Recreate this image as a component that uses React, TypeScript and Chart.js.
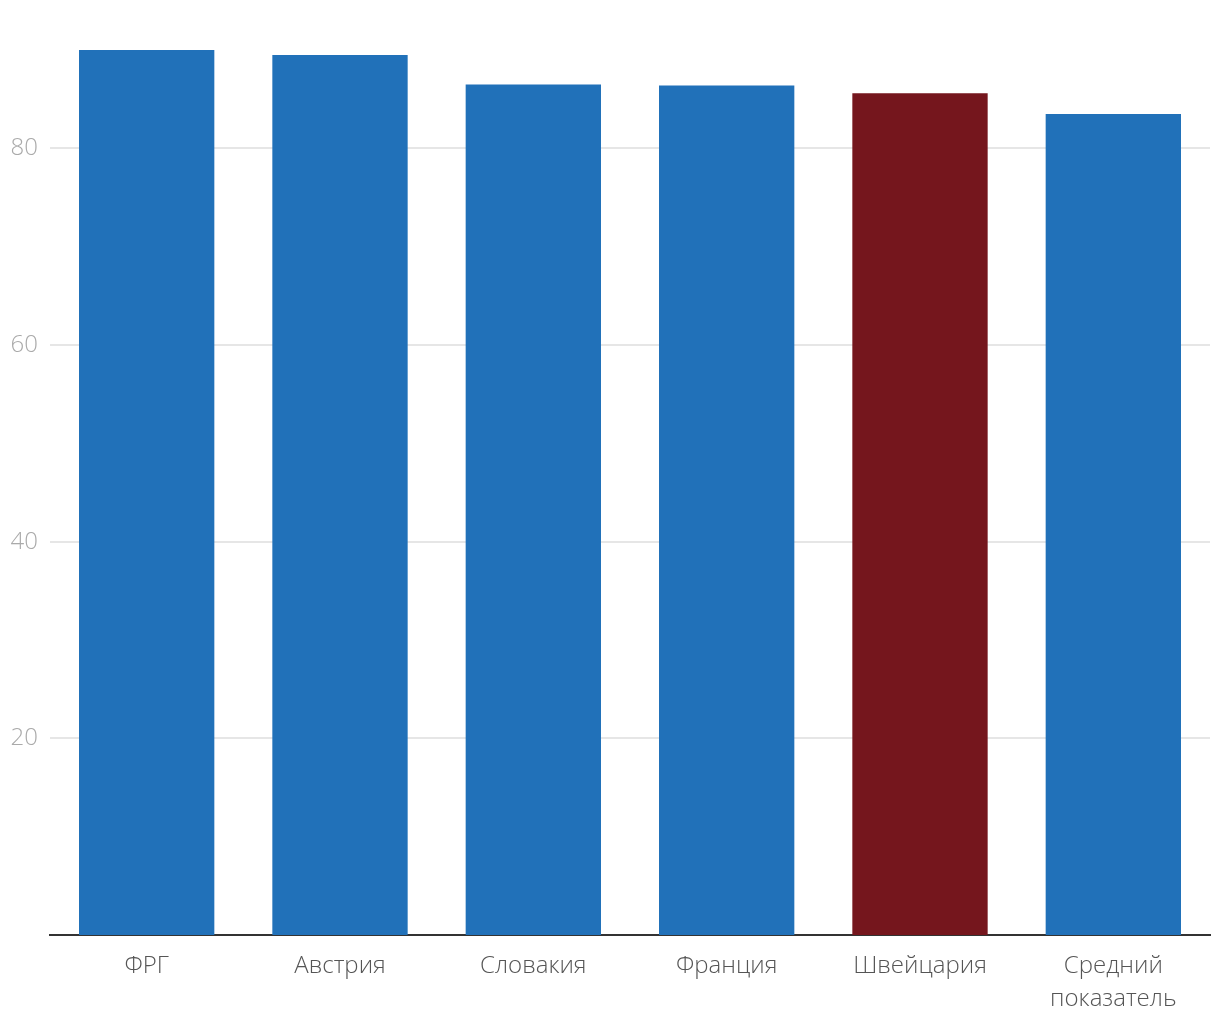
import React, { useEffect, useRef } from "react";
import { Chart, registerables } from "chart.js";

Chart.register(...registerables);

const categories: (string | string[])[] = ["ФРГ", "Австрия", "Словакия", "Франция", "Швейцария", ["Средний", "показатель"]];
const values = [90.0, 89.5, 86.5, 86.4, 85.6, 83.5];
const barColors = ["#2171b9", "#2171b9", "#2171b9", "#2171b9", "#75161d", "#2171b9"];
const yTicks = [20, 40, 60, 80];

export default function App() {
  const ref = useRef<HTMLCanvasElement | null>(null);
  useEffect(() => {
    document.body.style.margin = "0";
    const chart = new Chart(ref.current!, {
      type: "bar",
      data: {
        labels: categories,
        datasets: [
          {
            data: values,
            backgroundColor: barColors,
            borderWidth: 0,
            barPercentage: 0.7,
            categoryPercentage: 1,
          },
        ],
      },
      options: {
        animation: false,
        responsive: false,
        maintainAspectRatio: false,
        layout: { padding: { top: 50, right: 10, left: 0, bottom: 0 } },
        plugins: { legend: { display: false }, tooltip: { enabled: false } },
        scales: {
          x: {
            grid: { display: false, drawTicks: false },
            border: { display: true, color: "#333333", width: 2 },
            ticks: {
              color: "#555555",
              padding: 15,
              font: { family: "'Open Sans'", size: 24, weight: 300, lineHeight: 1.375 },
              maxRotation: 0,
              autoSkip: false,
            },
            afterFit: (s: any) => {
              s.height = 85;
            },
          },
          y: {
            min: 0,
            max: 90,
            grid: { color: "#e6e6e6", drawTicks: false, lineWidth: 2 },
            border: { display: false },
            ticks: {
              color: "#aaaaaa",
              padding: 12,
              font: { family: "'Open Sans'", size: 24, weight: 300 },
            },
            afterBuildTicks: (s: any) => {
              s.ticks = yTicks.map((v) => ({ value: v }));
            },
            afterFit: (s: any) => {
              s.width = 50;
            },
          },
        },
      },
    });
    return () => chart.destroy();
  }, []);
  return (
    <div style={{ width: 1220, height: 1020 }}>
      <canvas ref={ref} width={1220} height={1020} style={{ width: 1220, height: 1020 }} />
    </div>
  );
}
